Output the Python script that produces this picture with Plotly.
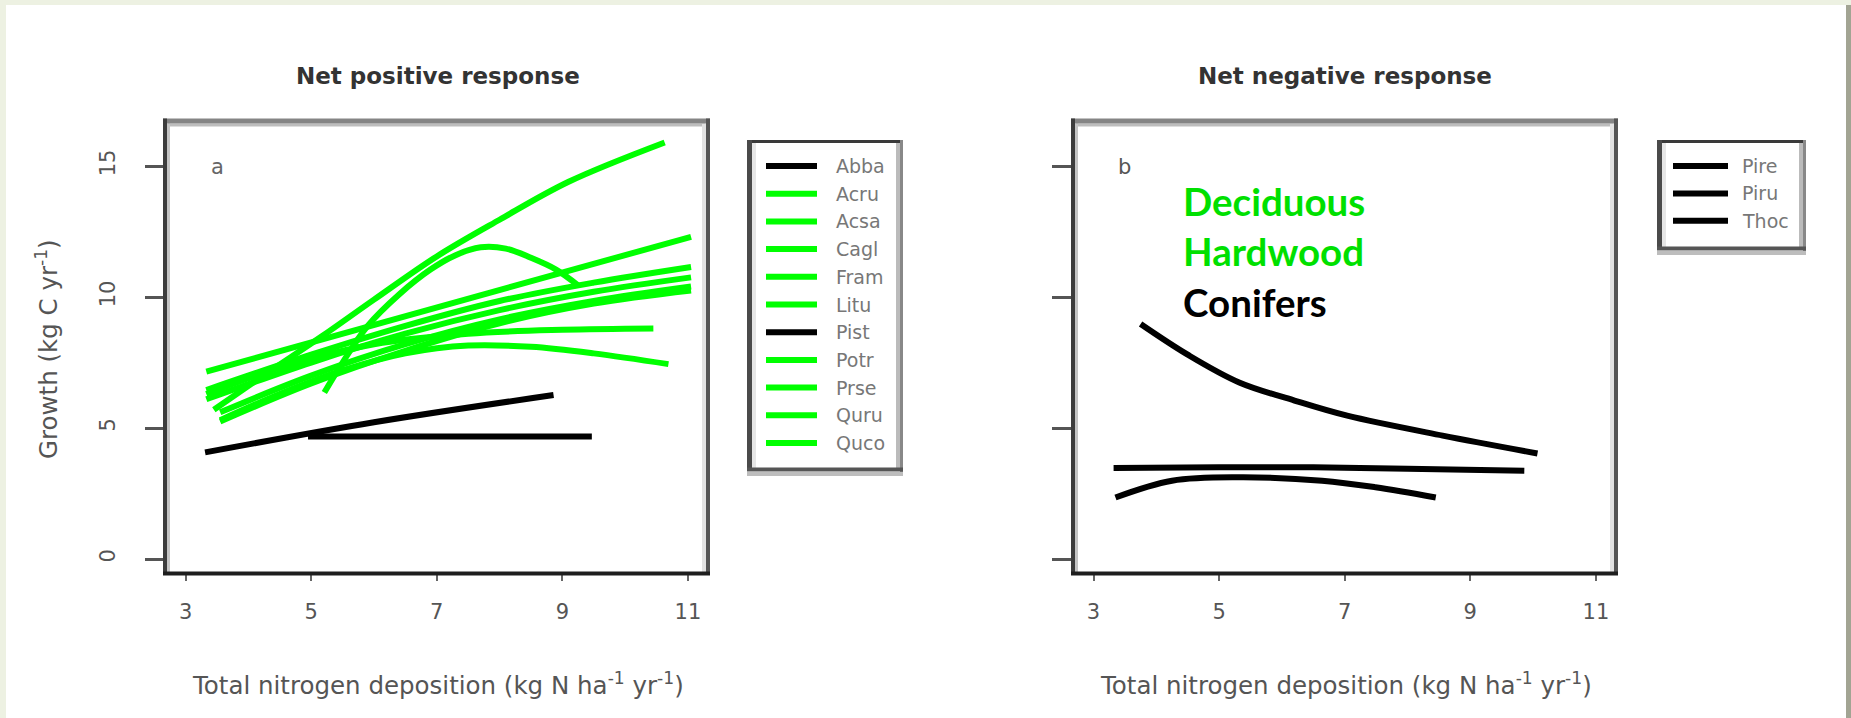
import plotly.graph_objects as go

W, H = 1851, 718

# ---------------- data: panel a (net positive response) ----------------
abba_x = [4.95, 9.47]
abba_y = [4.68, 4.68]
acru_x = [3.33, 5.0, 6.5, 8.0, 9.5, 11.05]
acru_y = [6.1, 7.5, 8.6, 9.5, 10.2, 10.75]
acsa_x = [3.45, 4.3, 5.17, 6.0, 7.0, 8.0, 9.1, 10.63]
acsa_y = [5.7, 7.1, 8.5, 9.9, 11.55, 12.95, 14.4, 15.9]
cagl_x = [5.21, 5.5, 5.9, 6.4, 6.9, 7.3, 7.7, 8.1, 8.5, 8.9, 9.25]
cagl_y = [6.36, 7.5, 8.9, 10.1, 11.05, 11.6, 11.9, 11.85, 11.5, 11.05, 10.45]
fram_x = [3.33, 11.05]
fram_y = [7.15, 12.3]
litu_x = [3.33, 5.0, 6.5, 8.0, 9.5, 11.05]
litu_y = [6.45, 7.8, 8.9, 9.85, 10.55, 11.15]
pist_x = [3.31, 6.0, 8.86]
pist_y = [4.07, 5.22, 6.26]
potr_x = [3.55, 4.5, 5.5, 6.5, 7.5, 8.5, 9.5, 10.69]
potr_y = [5.3, 6.3, 7.2, 7.85, 8.15, 8.1, 7.85, 7.44]
prse_x = [3.33, 4.5, 6.0, 7.5, 9.0, 10.45]
prse_y = [6.3, 7.3, 8.2, 8.6, 8.75, 8.8]
quru_x = [3.55, 5.0, 6.5, 8.0, 9.5, 11.05]
quru_y = [5.6, 7.0, 8.2, 9.15, 9.85, 10.4]
quco_x = [3.55, 5.0, 6.5, 8.0, 9.5, 11.05]
quco_y = [5.25, 6.7, 7.95, 9.0, 9.75, 10.25]

left_names = ["Abba", "Acru", "Acsa", "Cagl", "Fram", "Litu", "Pist", "Potr", "Prse", "Quru", "Quco"]
left_groups = ["con", "dec", "dec", "dec", "dec", "dec", "con", "dec", "dec", "dec", "dec"]
left_xs = [abba_x, acru_x, acsa_x, cagl_x, fram_x, litu_x, pist_x, potr_x, prse_x, quru_x, quco_x]
left_ys = [abba_y, acru_y, acsa_y, cagl_y, fram_y, litu_y, pist_y, potr_y, prse_y, quru_y, quco_y]

# ---------------- data: panel b (net negative response) ----------------
pire_x = [3.75, 4.5, 5.32, 6.2, 7.04, 8.56, 10.07]
pire_y = [8.97, 7.8, 6.74, 6.05, 5.47, 4.71, 4.03]
piru_x = [3.32, 5.0, 6.5, 8.0, 9.86]
piru_y = [3.47, 3.5, 3.5, 3.45, 3.37]
thoc_x = [3.35, 4.25, 5.32, 6.64, 7.49, 8.45]
thoc_y = [2.35, 2.99, 3.12, 2.99, 2.74, 2.35]

right_names = ["Pire", "Piru", "Thoc"]
right_groups = ["con", "con", "con"]
right_xs = [pire_x, piru_x, thoc_x]
right_ys = [pire_y, piru_y, thoc_y]

x_ticks = [3, 5, 7, 9, 11]
y_ticks = [0, 5, 10, 15]
x_range = [2.68, 11.32]
y_range = [-0.534, 16.72]

GREEN = "#00FF00"
BLACK = "#000000"
group_color = {"dec": GREEN, "con": BLACK}


def px(x):
    return x / W


def py(y):
    return 1 - y / H


fig = go.Figure()

for name, grp, xs, ys in zip(left_names, left_groups, left_xs, left_ys):
    fig.add_trace(go.Scatter(
        x=xs, y=ys, mode="lines", name=name, showlegend=False,
        line=dict(color=group_color[grp], width=6, shape="spline", smoothing=1.0),
        xaxis="x", yaxis="y", hoverinfo="skip"))

for name, grp, xs, ys in zip(right_names, right_groups, right_xs, right_ys):
    fig.add_trace(go.Scatter(
        x=xs, y=ys, mode="lines", name=name, showlegend=False,
        line=dict(color=group_color[grp], width=6, shape="spline", smoothing=1.0),
        xaxis="x2", yaxis="y2", hoverinfo="skip"))

tickfont = dict(family="DejaVu Sans", size=21, color="#555555")

xcommon = dict(range=x_range, tickvals=x_ticks, ticks="outside", ticklen=7, tickwidth=2,
               tickcolor="#666666", showline=False, showgrid=False, zeroline=False,
               tickfont=tickfont, ticklabelstandoff=13, fixedrange=True)
ycommon = dict(range=y_range, tickvals=y_ticks, ticks="outside", ticklen=20, tickwidth=3,
               tickcolor="#555555", showline=False, showgrid=False, zeroline=False,
               tickfont=tickfont, tickangle=-90, ticklabelstandoff=21, fixedrange=True)

ydom = [py(573), py(121)]
fig.update_layout(
    width=W, height=H,
    margin=dict(l=0, r=0, t=0, b=0),
    paper_bgcolor="white", plot_bgcolor="white",
    showlegend=False,
    xaxis=dict(domain=[px(165.5), px(708)], anchor="y", **xcommon),
    yaxis=dict(domain=ydom, anchor="x", showticklabels=True, **ycommon),
    xaxis2=dict(domain=[px(1073.4), px(1616)], anchor="y2", **xcommon),
    yaxis2=dict(domain=ydom, anchor="x2", showticklabels=False, **ycommon),
)

# ---- frame around page ----
FR = "#EDF1E2"
shapes = [
    dict(type="rect", xref="paper", yref="paper", x0=0, x1=1, y0=py(5), y1=1,
         fillcolor=FR, line=dict(width=0), layer="below"),
    dict(type="rect", xref="paper", yref="paper", x0=0, x1=px(6), y0=0, y1=1,
         fillcolor=FR, line=dict(width=0), layer="below"),
    dict(type="rect", xref="paper", yref="paper", x0=px(1846), x1=1, y0=0, y1=py(5),
         fillcolor="#A2A493", line=dict(width=0), layer="below"),
]


def hline(x0, x1, y, color, width):
    return dict(type="line", xref="paper", yref="paper", x0=px(x0), x1=px(x1),
                y0=py(y), y1=py(y), line=dict(color=color, width=width))


def vline(x, y0, y1, color, width):
    return dict(type="line", xref="paper", yref="paper", x0=px(x), x1=px(x),
                y0=py(y0), y1=py(y1), line=dict(color=color, width=width))


def panel_box(x0, x1, y0, y1):
    return [
        hline(x0 + 5, x1 - 5, y0 + 6.5, "#BDBDBD", 3),
        vline(x0 + 5.5, y0 + 5, y1 - 3, "#C4C4C4", 3),
        vline(x1 - 6, y0 + 5, y1 - 3, "#E2E2E2", 4),
        hline(x0, x1, y0 + 2.5, "#858585", 5),
        vline(x0 + 2, y0, y1, "#3C3C3C", 4),
        vline(x1 - 2, y0, y1, "#555555", 4),
        hline(x0, x1, y1 - 1.5, "#1E1E1E", 4),
    ]


def legend_box(x0, x1, y0, y1):
    return [
        dict(type="rect", xref="paper", yref="paper", x0=px(x0), x1=px(x1), y0=py(y1), y1=py(y0),
             fillcolor="white", line=dict(width=0)),
        vline(x0 + 7, y0 + 3, y1 - 3, "#E6E6E6", 4),
        vline(x1 - 5, y0 + 3, y1 - 3, "#BBBBBB", 4),
        hline(x0, x1, y1 + 3, "#BDBDBD", 4),
        hline(x0, x1, y0 + 1.5, "#3A3A3A", 3),
        vline(x0 + 2.5, y0, y1, "#4A4A4A", 5),
        vline(x1 - 1.5, y0, y1 + 1, "#888888", 3),
        hline(x0, x1, y1 - 1.5, "#555555", 4),
    ]


shapes += panel_box(163, 710, 118.5, 575)
shapes += panel_box(1071, 1618, 118.5, 575)

ann = []
leg_font = dict(family="DejaVu Sans", size=19, color="#777777")

# legend for panel a
shapes += legend_box(747, 903, 140, 471)
for i, (name, grp) in enumerate(zip(left_names, left_groups)):
    yc = 166 + i * 27.7
    shapes.append(hline(766, 817, yc, group_color[grp], 6))
    ann.append(dict(text=name, x=px(834), y=py(yc), xanchor="left", font=leg_font))

# legend for panel b
shapes += legend_box(1657, 1806, 140, 250)
for i, (name, grp) in enumerate(zip(right_names, right_groups)):
    yc = 166 + i * 27.4
    shapes.append(hline(1673, 1728, yc, group_color[grp], 6))
    ann.append(dict(text=name, x=px(1740), y=py(yc), xanchor="left", font=leg_font))

fig.update_layout(shapes=shapes)

title_font = dict(family="DejaVu Sans", size=23, color="#333333")
lab_font = dict(family="DejaVu Sans", size=24.5, color="#555555")
ann += [
    dict(text="<b>Net positive response</b>", x=px(437.5), y=py(76), font=title_font),
    dict(text="<b>Net negative response</b>", x=px(1344.6), y=py(76), font=title_font),
    dict(text="Total nitrogen deposition (kg N ha<sup>-1</sup> yr<sup>-1</sup>)",
         x=px(437.5), y=py(684), font=lab_font),
    dict(text="Total nitrogen deposition (kg N ha<sup>-1</sup> yr<sup>-1</sup>)",
         x=px(1346), y=py(684), font=lab_font),
    dict(text="Growth (kg C yr<sup>-1</sup>)", x=px(47), y=py(349), textangle=-90, font=lab_font),
    dict(text="a", x=px(217), y=py(167), font=dict(family="DejaVu Sans", size=21, color="#666666")),
    dict(text="b", x=px(1124), y=py(167), font=dict(family="DejaVu Sans", size=21, color="#555555")),
    dict(text="<b>Deciduous</b>", x=px(1181), y=py(201), xanchor="left",
         font=dict(family="Lato", size=38.5, color="#00E000")),
    dict(text="<b>Hardwood</b>", x=px(1181), y=py(251), xanchor="left",
         font=dict(family="Lato", size=38.5, color="#00E000")),
    dict(text="<b>Conifers</b>", x=px(1181), y=py(302), xanchor="left",
         font=dict(family="Lato", size=38.5, color="#000000")),
]
for a in ann:
    a.setdefault("xanchor", "center")
    a.update(xref="paper", yref="paper", yanchor="middle", showarrow=False)
fig.update_layout(annotations=ann)

fig.write_html("out.html")
